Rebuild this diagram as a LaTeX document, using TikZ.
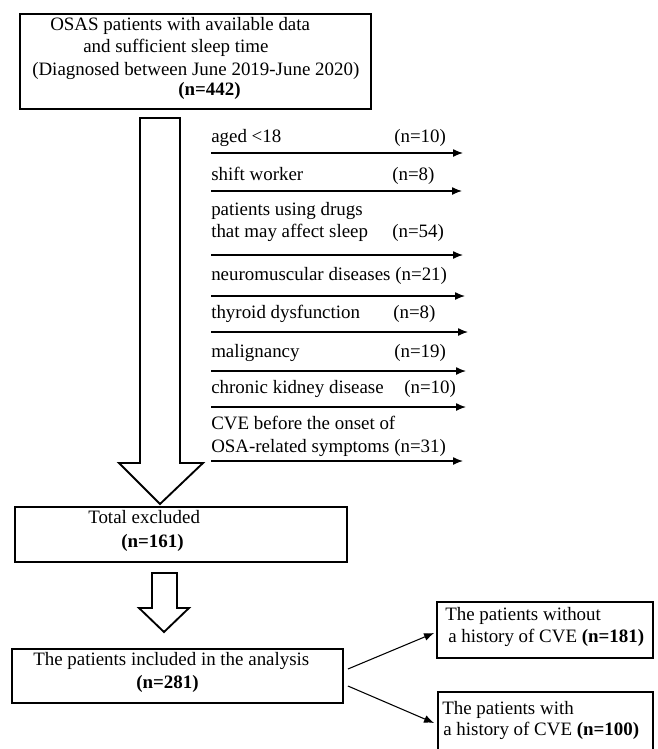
\documentclass[tikz,border=0pt]{standalone}
\usepackage{fontspec}
\setmainfont{Liberation Serif}
\usetikzlibrary{arrows.meta,calc,positioning}

\begin{document}
\begin{tikzpicture}
[
x=0.75pt,y=-0.75pt,
arr/.style={>={Latex[length=7.5pt,width=6pt]}, shorten >=0pt, shorten <=0pt},
box/.style={draw,rectangle,line width=1.4pt,inner sep=0pt},
txt/.style={anchor=base west,inner sep=0pt,font=\fontsize{14.2}{17}\selectfont},
block/.style={draw,line width=1.4pt,fill=white},
]
\useasboundingbox (0,0) rectangle (657,749);
\clip (-5,-5) rectangle (662,749);

% Boxes
\node[box,minimum width=263.25pt,minimum height=71.25pt] (osas) at (195.5,61.5) {};
\node[box,minimum width=249pt,minimum height=41.25pt] (total) at (181,534.5) {};
\node[box,minimum width=248.25pt,minimum height=40.5pt] (incl) at (177.5,676) {};
\node[box,minimum width=162pt,minimum height=42pt] (without) at (545,630) {};
\node[box,minimum width=161.25pt,minimum height=60pt] (with) at (545.5,732) {};

% Texts
\node[txt] (o1) at (50,31) {OSAS patients with available data};
\node[txt] (o2) at (83,53) {and sufficient sleep time};
\node[txt] (o3) at (32,75) {(Diagnosed between June 2019-June 2020)};
\node[txt] (o4) at (178,95) {\textbf{(n=442)}};

\node[txt] (e1) at (211,142) {aged <18};
\node[txt] (n1) at (394,142) {(n=10)};
\node[txt] (e2) at (211,180) {shift worker};
\node[txt] (n2) at (392,180) {(n=8)};
\node[txt] (e3) at (211,215) {patients using drugs};
\node[txt] (e3b) at (211,237) {that may affect sleep};
\node[txt] (n3) at (392,237) {(n=54)};
\node[txt] (e4) at (211,280) {neuromuscular diseases (n=21)};
\node[txt] (e5) at (211,318) {thyroid dysfunction};
\node[txt] (n5) at (393,318) {(n=8)};
\node[txt] (e6) at (211,357) {malignancy};
\node[txt] (n6) at (394,357) {(n=19)};
\node[txt] (e7) at (211,393) {chronic kidney disease};
\node[txt] (n7) at (404,393) {(n=10)};
\node[txt] (e8) at (211,429) {CVE before the onset of};
\node[txt] (e8b) at (211,452) {OSA-related symptoms (n=31)};

\node[txt] (t1) at (88,523) {Total excluded};
\node[txt] (t2) at (121,547) {\textbf{(n=161)}};
\node[txt] (i1) at (33,665) {The patients included in the analysis};
\node[txt] (i2) at (136,688) {\textbf{(n=281)}};
\node[txt] (w1) at (445,620) {The patients without};
\node[txt] (w2) at (448,642) {a history of CVE \textbf{(n=181)}};
\node[txt] (h1) at (442,714) {The patients with};
\node[txt] (h2) at (443,735) {a history of CVE \textbf{(n=100)}};

% Block arrows
\draw[block] (140,118) -- (140,463) -- (119,463) -- (160,504) -- (203,463)
  -- (180,463) -- (180,118) -- cycle;
\draw[block] (152,573) -- (152,608) -- (139,608) -- (164,632) -- (189,608)
  -- (177,608) -- (177,573) -- cycle;

% Edges
\foreach \y/\e in {153/463,191/462,255/463,296/465,332/468,371/466,407/466,461/463}
  \draw[arr,->,line width=1pt] (211,\y) -- (\e,\y);
\draw[arr,->,line width=0.8pt] ($(incl.east)+(4,-7)$) -- ($(without.west)+(-2,3)$);
\draw[arr,->,line width=0.8pt] ($(incl.east)+(4,10)$) -- ($(with.west)+(-3,-9)$);

\end{tikzpicture}
\end{document}
